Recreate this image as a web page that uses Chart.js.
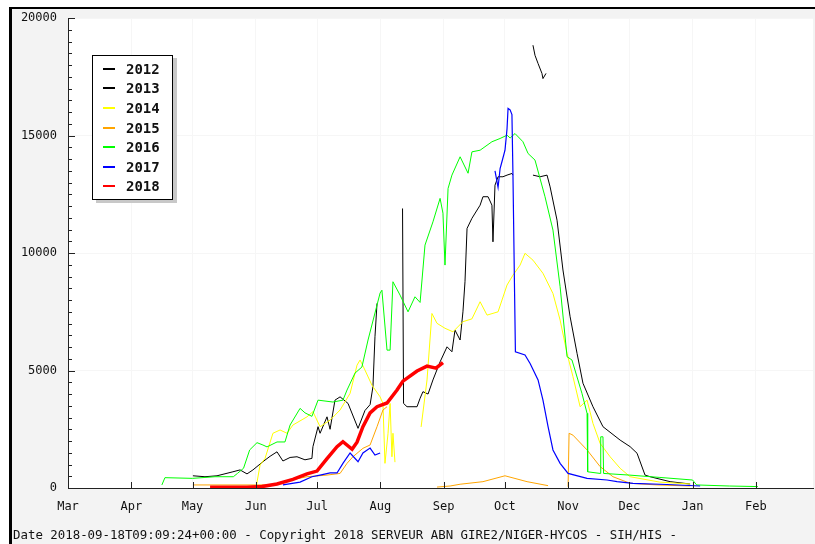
<!DOCTYPE html>
<html>
<head>
<meta charset="utf-8">
<script src="https://cdn.jsdelivr.net/npm/chart.js@4.4.1/dist/chart.umd.min.js"></script>
<style>
body { margin: 0; background: #fff; }
#wrap { position: relative; width: 815px; height: 544px; overflow: hidden; }
#panel { position: absolute; left: 9px; top: 7px; width: 806px; height: 537px; box-sizing: border-box;
         background: #f3f3f3; border-left: 3px solid #000; border-top: 2px solid #000; }
#chart { position: absolute; left: 0; top: 0; }
#legend { position: absolute; left: 92px; top: 55px; width: 81px; height: 145px; box-sizing: border-box;
          border: 1px solid #000; background: #fff; box-shadow: 4px 3px 0 #c8c8c8;
          font: bold 14px "DejaVu Sans Mono", monospace; color: #111; padding-top: 3px; }
.row { height: 19.6px; display: flex; align-items: center; }
.swatch { width: 12px; height: 2px; margin-left: 10px; margin-right: 11px; }
#footer { position: absolute; left: 13px; top: 527px; font: 12.4px "DejaVu Sans Mono", monospace;
          color: #111; white-space: nowrap; }
</style>
</head>
<body>
<div id="wrap">
  <div id="panel"></div>
  <canvas id="chart" width="815" height="544"></canvas>
  <div id="legend"></div>
  <div id="footer">Date 2018-09-18T09:09:24+00:00 - Copyright 2018 SERVEUR ABN GIRE2/NIGER-HYCOS - SIH/HIS -</div>
</div>
<script>
// x = days since 1 March, y = discharge
const monthStart = [0, 31, 61, 92, 122, 153, 184, 214, 245, 275, 306, 337];
const monthLabels = ["Mar", "Apr", "May", "Jun", "Jul", "Aug", "Sep", "Oct", "Nov", "Dec", "Jan", "Feb"];
const years = ["2012", "2013", "2014", "2015", "2016", "2017", "2018"];

const days2012 = [227.8, 228.8, 230.3, 232.2, 232.7, 234.2];
const flow2012 = [18850, 18420, 18070, 17650, 17430, 17650];

const days2013 = [61.2, 67.1, 73, 80.8, 84.3, 87.7, 90.6, 95.5, 99, 102.4, 105.3, 108.8, 112.2, 116.1, 119.5, 120,
  122.5, 123.5, 126.9, 128.4, 130.8, 133.3, 137.2, 142.1, 145.5, 148, 149.4, 150.4, 151.4, 152, 163.9, 164.4, 166.1,
  171, 172.5, 173.9, 176.4, 178.8, 182.3, 185.7, 188.1, 189.6, 192.1, 193.5, 194.5, 195.5, 197.9, 201.9, 203.3, 205.8,
  207.7, 208.2, 209.2, 210.7, 213.1, 215.1, 217.5, 218, 223, 227.8, 231.3, 234.7, 236.2, 239.6, 242.5, 246, 249.4,
  252.3, 257.2, 262.1, 270.5, 275.4, 278.8, 282.7, 285.2, 295, 304.8];
const flow2013 = [520, 480, 520, 690, 770, 600, 770, 1120, 1350, 1540, 1150, 1300, 1330, 1200, 1260, 1760,
  2610, 2330, 3030, 2500, 3740, 3880, 3600, 2540, 3300, 3550, 4310, 6440, 7860, null, 11900, 3600, 3460,
  3460, 3820, 4100, 4000, 4600, 5370, 6010, 5800, 6720, 6300, 7500, 8780, 11050, 11480, 12040, 12400, 12400,
  12040, 10480, 12890, 13250, 13250, 13320, 13390, 13320, null, 13320, 13250, 13320, 12820, 11400, 9280, 7290, 5730,
  4460, 3460, 2610, 2040, 1760, 1480, 550, 480, 270, 170];

const days2014 = [92.1, 94.1, 96.5, 100.4, 103.9, 107.3, 110.2, 117.1, 120, 123.5, 128.4, 133.3, 138.2, 141.6, 143.1,
  145.5, 148.9, 152.9, 154.3, 155.3, 156.8, 157.8, 158.7, 159.2, 160.2, 165, 173, 175.9, 178.3, 180.8, 184.7, 188.6,
  193.5, 197.9, 201.9, 205.3, 210.7, 215.1, 218, 221.5, 223.9, 227.8, 232.7, 237.6, 241.1, 244.5, 247.4, 250.9,
  254.3, 257.2, 260.7, 265.6, 270.5, 275.4, 290, 304.8];
const flow2014 = [0, 980, 1250, 2330, 2470, 2330, 2680, 3030, 3250, 2610, 2890, 3320, 4030, 5230, 5450,
  5020, 4380, 3880, 3600, 1050, 2330, 3600, 1330, 2330, 1100, null, 2600, 4600, 7430, 7010, 6800, 6650,
  7080, 7200, 7930, 7360, 7500, 8640, 9060, 9490, 9990, 9700, 9140, 8280, 7150, 5730, 4740, 3460,
  3740, 2750, 1900, 1330, 840, 480, 250, 170];

const days2015 = [61.2, 99, 105.3, 117.1, 126.9, 133.3, 136.7, 139.6, 144.5, 148, 151.4, 154.3, 156.3, 168,
  180.8, 187.2, 192.1, 203.3, 214.1, 224.9, 235.2, 240, 245, 245.5, 247.4, 254.3, 260.7, 267, 275.4, 288.6, 304.8];
const flow2015 = [130, 130, 270, 480, 550, 620, 1050, 1330, 1690, 1830, 2610, 3320, 3460, null,
  40, 85, 160, 270, 520, 270, 100, null, 50, 2330, 2250, 1620, 910, 480, 200, 130, 85];

const days2016 = [46, 47.5, 61, 72, 81, 83, 86, 89, 92.6, 95.5, 97.5, 102.4, 106.3, 108.8, 113.7, 116.1, 119.5,
  122.5, 129.8, 134.7, 136.7, 140.6, 144, 147, 150.4, 152.9, 153.8, 156.3, 157.8, 159.2, 162.7, 166.6, 170, 172.5,
  174.9, 178.8, 182.3, 183.7, 184.7, 186.2, 188.1, 192.1, 196, 197.9, 201.9, 207.7, 211.7, 215.1, 216.6, 219,
  222.9, 225.4, 228.8, 233.7, 237.6, 241.1, 244.5, 246.9, 251.8, 254.3, 254.6, 260.7, 261, 262.1, 262.4, 275,
  290, 306, 308, 324, 338];
const flow2016 = [130, 440, 410, 480, 480, 620, 840, 1620, 1930, 1830, 1750, 1960, 1960, 2680, 3390, 3200, 3050,
  3740, 3660, 3740, 4170, 4890, 5150, 6300, 7450, 8300, 8420, 5870, 5870, 8780, 8210, 7500, 8140, 7900,
  10340, 11330, 12330, 11700, 9490, 12750, 13320, 14100, 13400, 14310, 14380, 14740, 14880, 15020, 14900, 15090,
  14740, 14240, 13960, 12400, 10980, 8570, 5590, 5450, 4030, 3180, 690, 620, 2180, 2180, 620, 550,
  450, 340, 130, 85, 60];

const days2017 = [105.3, 113.7, 119.5, 123.5, 128.4, 131.8, 134.7, 138.2, 142.1, 144.5, 148, 150.4, 152.9, 160,
  209.2, 210.7, 211.7, 212.6, 214.1, 215.1, 215.6, 216.6, 217.5, 218, 218.8, 219.2, 223.9, 226.4, 230.3, 232.7,
  235.2, 237.6, 241.1, 245, 254.3, 264.1, 269, 276.8, 293.5, 309.7];
const flow2017 = [130, 250, 480, 550, 640, 640, 1050, 1490, 1120, 1490, 1700, 1400, 1490, null,
  13500, 12800, 13600, 13890, 14380, 15300, 16160, 16100, 15900, 13320, 8280, 5800, 5660, 5300, 4600, 3740,
  2610, 1620, 1050, 620, 410, 340, 270, 200, 150, 85];

const days2018 = [69.6, 87.7, 95, 102.4, 110.2, 117.1, 122, 126.9, 131.8, 134.7, 139.2, 141.6, 144.5, 148, 151.4,
  156.3, 161.2, 164.1, 171, 175.9, 180.3, 183.7];
const flow2018 = [30, 30, 60, 170, 370, 600, 720, 1250, 1760, 1970, 1650, 1950, 2610, 3200, 3460,
  3620, 4170, 4550, 4980, 5190, 5100, 5340];

const dayLists = [days2012, days2013, days2014, days2015, days2016, days2017, days2018];
const flowLists = [flow2012, flow2013, flow2014, flow2015, flow2016, flow2017, flow2018];
const lineColors = ["#000000", "#000000", "#ffff00", "#ffa500", "#00ff00", "#0000ff", "#ff0000"];
const lineWidths = [1, 1, 1, 1, 1, 1.2, 3.5];

const datasets = years.map((yr, i) => ({
  label: yr,
  data: dayLists[i].map((d, k) => ({ x: d, y: flowLists[i][k] })),
  borderColor: lineColors[i],
  borderWidth: lineWidths[i],
  pointRadius: 0,
  spanGaps: false,
  order: years.length - i
}));

// white plot area over the grey panel
const plotBg = {
  id: "plotBg",
  beforeDraw(chart) {
    const { ctx, chartArea: a } = chart;
    ctx.save();
    ctx.fillStyle = "#fff";
    ctx.fillRect(a.left, a.top, a.right - a.left, a.bottom - a.top);
    ctx.restore();
  }
};

// tick marks pointing into the plot
const innerTicks = {
  id: "innerTicks",
  afterDraw(chart) {
    const { ctx, chartArea: a, scales: { x, y } } = chart;
    ctx.save();
    ctx.strokeStyle = "#222";
    ctx.lineWidth = 1;
    ctx.beginPath();
    for (let v = 0; v <= 20000; v += 500) {
      const py = Math.round(y.getPixelForValue(v)) + 0.5;
      ctx.moveTo(a.left, py);
      ctx.lineTo(a.left + (v % 5000 === 0 ? 7 : 4), py);
    }
    monthStart.forEach(d => {
      const px = Math.round(x.getPixelForValue(d)) + 0.5;
      ctx.moveTo(px, a.bottom);
      ctx.lineTo(px, a.bottom - 6);
    });
    ctx.stroke();
    ctx.restore();
  }
};

const axisFont = { family: "DejaVu Sans Mono", size: 12 };

new Chart("chart", {
  type: "line",
  data: { datasets: datasets },
  plugins: [plotBg, innerTicks],
  options: {
    responsive: false,
    animation: false,
    layout: { padding: { top: 18, right: 2, left: 0, bottom: 0 } },
    plugins: { legend: { display: false }, tooltip: { enabled: false } },
    elements: { line: { tension: 0 } },
    scales: {
      x: {
        type: "linear",
        min: 0,
        max: 365,
        afterFit: s => { s.height = 56; },
        afterBuildTicks: s => { s.ticks = monthStart.map(v => ({ value: v })); },
        ticks: {
          autoSkip: false,
          maxRotation: 0,
          padding: 12,
          color: "#111",
          font: axisFont,
          callback: v => monthLabels[monthStart.indexOf(v)]
        },
        grid: { color: "#f6f6f6", drawTicks: false },
        border: { color: "#222", width: 1 }
      },
      y: {
        min: 0,
        max: 20000,
        afterFit: s => { s.width = 68; },
        ticks: { stepSize: 5000, padding: 11, color: "#111", font: axisFont, callback: v => String(v) },
        grid: { color: "#f6f6f6", drawTicks: false },
        border: { color: "#222", width: 1 }
      }
    }
  }
});

// legend
const legend = document.getElementById("legend");
years.forEach((yr, i) => {
  const row = document.createElement("div");
  row.className = "row";
  const sw = document.createElement("span");
  sw.className = "swatch";
  sw.style.background = lineColors[i];
  row.appendChild(sw);
  row.appendChild(document.createTextNode(yr));
  legend.appendChild(row);
});
</script>
</body>
</html>
